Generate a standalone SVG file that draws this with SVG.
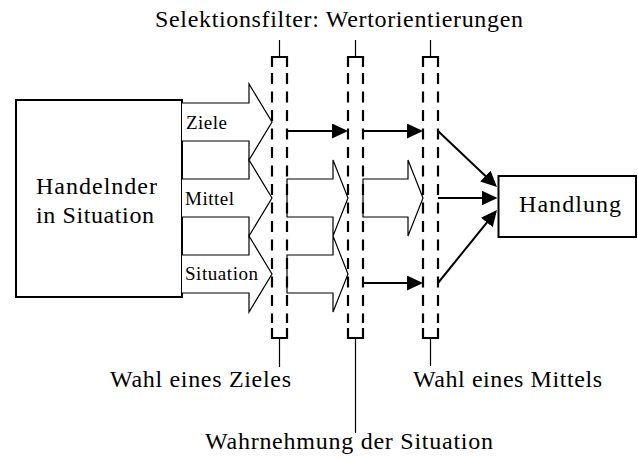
<svg xmlns="http://www.w3.org/2000/svg" width="638" height="459" viewBox="0 0 638 459">
<style>
.big{font-family:"Liberation Serif","Times New Roman",serif;font-size:24px;fill:#000}
.sm{font-family:"Liberation Serif","Times New Roman",serif;font-size:19px;fill:#000}
.box{fill:#fff;stroke:#000;stroke-width:2}
.fat{fill:#fff;stroke:#000;stroke-width:1.2;stroke-linejoin:miter}
.dash{fill:none;stroke:#000;stroke-width:2.2;stroke-dasharray:11 7.5}
.brk{fill:none;stroke:#000;stroke-width:2.2}
.stem{fill:none;stroke:#000;stroke-width:1.2}
.arr{fill:none;stroke:#000;stroke-width:2;marker-end:url(#ah)}
</style>
<defs>
<marker id="ah" markerUnits="userSpaceOnUse" markerWidth="16" markerHeight="15" refX="14" refY="7.5" orient="auto">
<path d="M0,0 L16,7.5 L0,15 z" fill="#000"/>
</marker>
</defs>
<rect width="638" height="459" fill="#fff"/>

<text class="big" x="155" y="27" textLength="368" lengthAdjust="spacing">Selektionsfilter: Wertorientierungen</text>

<g id="handelnder">
<rect class="box" x="16" y="100" width="166" height="197"/>
<text class="big" x="36" y="194" textLength="121" lengthAdjust="spacing">Handelnder</text>
<text class="big" x="36" y="223" textLength="118" lengthAdjust="spacing">in Situation</text>
</g>

<g id="input-arrows">
<path class="fat" d="M182,103 H249 V84 L272,122 L249,160 V141 H182"/>
<path class="fat" d="M182,179 H249 V160 L272,198 L249,236 V217 H182"/>
<path class="fat" d="M182,255 H249 V236 L272,274 L249,312 V293 H182"/>
<text class="sm" x="186" y="129" textLength="41" lengthAdjust="spacing">Ziele</text>
<text class="sm" x="185" y="205" textLength="49" lengthAdjust="spacing">Mittel</text>
<text class="sm" x="185" y="280" textLength="73" lengthAdjust="spacing">Situation</text>
</g>

<g id="mid-arrows">
<path class="fat" d="M287,179 H333 V160 L348,198 L333,236 V217 H287 Z"/>
<path class="fat" d="M287,255 H333 V236 L348,274 L333,312 V293 H287 Z"/>
<path class="fat" d="M363,179 H408 V160 L423,198 L408,236 V217 H363 Z"/>
</g>

<g id="filter1">
<path class="brk" d="M272,67 V57 H287 V67"/>
<path class="dash" d="M272,73 V323 M287,73 V323"/>
<path class="brk" d="M272,328 V338 H287 V328"/>
<path class="stem" d="M279.5,40 V57 M279.5,338 V367"/>
</g>
<g id="filter2">
<path class="brk" d="M348,67 V57 H363 V67"/>
<path class="dash" d="M348,73 V323 M363,73 V323"/>
<path class="brk" d="M348,328 V338 H363 V328"/>
<path class="stem" d="M355.5,40 V57 M355.5,338 V433"/>
</g>
<g id="filter3">
<path class="brk" d="M423,67 V57 H438 V67"/>
<path class="dash" d="M423,73 V323 M438,73 V323"/>
<path class="brk" d="M423,328 V338 H438 V328"/>
<path class="stem" d="M430.5,40 V57 M430.5,338 V366"/>
</g>

<g id="connectors">
<line class="arr" x1="288" y1="131" x2="346" y2="131"/>
<line class="arr" x1="364" y1="131" x2="421" y2="131"/>
<line class="arr" x1="364" y1="283" x2="421" y2="283"/>
<line class="arr" x1="438" y1="131" x2="495.5" y2="185.6"/>
<line class="arr" x1="438" y1="198" x2="495.5" y2="198"/>
<line class="arr" x1="438" y1="283" x2="495.7" y2="211.6"/>
</g>

<g id="handlung">
<rect class="box" x="498.5" y="176" width="137.5" height="61"/>
<text class="big" x="519" y="212" textLength="102" lengthAdjust="spacing">Handlung</text>
</g>

<g id="labels">
<text class="big" x="110" y="387" textLength="181" lengthAdjust="spacing">Wahl eines Zieles</text>
<text class="big" x="413" y="387" textLength="189" lengthAdjust="spacing">Wahl eines Mittels</text>
<text class="big" x="205" y="449" textLength="288" lengthAdjust="spacing">Wahrnehmung der Situation</text>
</g>
</svg>
